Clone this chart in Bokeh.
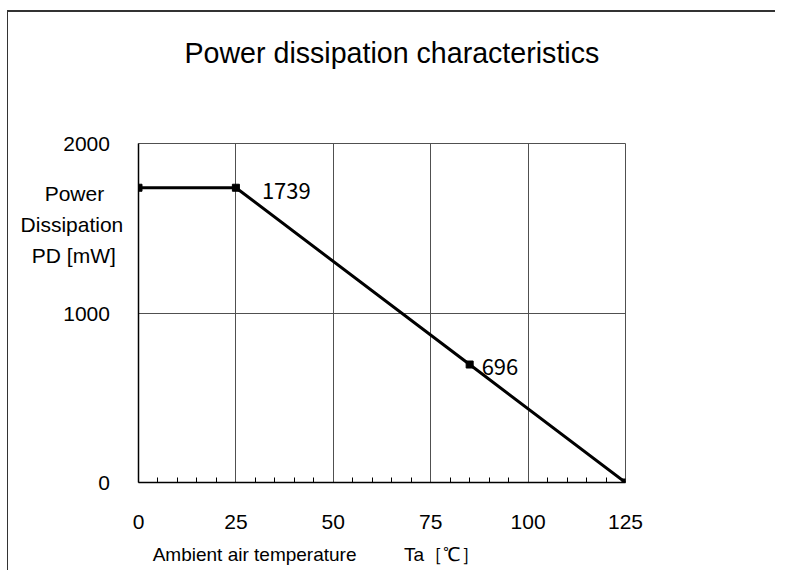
from bokeh.plotting import figure
from bokeh.models import Range1d, FixedTicker, Label, ColumnDataSource, Title, LinearAxis
from bokeh.embed import file_html
from bokeh.resources import INLINE

# ---- data ----
temps = [0, 25, 85, 125]
power = [1739, 1739, 696, 0]
point_labels = ["", "1739", "696", ""]
x_ticks = [0, 25, 50, 75, 100, 125]
x_minor = [v for v in range(5, 125, 5) if v % 25 != 0]
y_ticks = [0, 1000, 2000]
title_text = "Power dissipation characteristics"
y_label_lines = ["Power", "Dissipation", "PD [mW]"]
x_label_text = "Ambient air temperature"
x_unit_text = "Ta［℃］"

NB = "\u00a0"
TH = "\u2009"
# layout anchors (positions of the axis-label texts, in axis units)
y_label_pos = [1705, 1522, 1339]
y_label_pad = [NB * 4, TH, NB * 2]
x_label_pos = [29.8, 77.9]

p = figure(
    frame_width=487, frame_height=339,
    min_border_left=130, min_border_top=131, min_border_right=150, min_border_bottom=88,
    x_range=Range1d(0, 125), y_range=Range1d(0, 2000),
    output_backend="svg", toolbar_location=None,
)
p.styles = {"margin-top": "10px", "margin-left": "7px",
            "border-top": "2px solid #333333", "border-left": "1px solid #333333"}
p.background_fill_color = "white"
p.border_fill_color = "white"
p.outline_line_color = "#505050"
p.outline_line_width = 1

# y axis: numeric ticks + the three label lines as overridden tick labels
y_overrides = {v: str(v) + NB * 3 for v in y_ticks}
for txt, pos, pad in zip(y_label_lines, y_label_pos, y_label_pad):
    y_overrides[pos] = txt + pad
p.yaxis.ticker = FixedTicker(ticks=y_ticks + y_label_pos, minor_ticks=[])
p.yaxis.major_label_overrides = y_overrides
p.xaxis.ticker = FixedTicker(ticks=x_ticks, minor_ticks=x_minor)
for ax in (p.xaxis[0], p.yaxis[0]):
    ax.axis_line_color = "black"
    ax.axis_line_width = 1.5
    ax.major_tick_out = 0
    ax.minor_tick_out = 0
    ax.major_tick_line_color = "black"
    ax.minor_tick_line_color = "black"
    ax.major_label_text_font = "Liberation Sans"
    ax.major_label_text_font_size = "21px"
    ax.major_label_text_color = "black"
p.xaxis.major_tick_in = 0
p.xaxis.minor_tick_in = 5
p.yaxis.major_tick_in = 0
p.yaxis.minor_tick_in = 0
p.xaxis.major_label_standoff = 32
p.yaxis.major_label_standoff = 11

# second (label) x axis below
xlab_axis = LinearAxis(ticker=FixedTicker(ticks=x_label_pos, minor_ticks=[]),
                       major_label_overrides={x_label_pos[0]: x_label_text, x_label_pos[1]: x_unit_text},
                       axis_line_color=None, major_tick_line_color=None, minor_tick_line_color=None,
                       major_label_standoff=6,
                       major_label_text_font="Liberation Sans", major_label_text_font_size="19px",
                       major_label_text_color="black")
p.add_layout(xlab_axis, "below")

p.xgrid.ticker = FixedTicker(ticks=x_ticks)
p.ygrid.ticker = FixedTicker(ticks=y_ticks)
p.grid.grid_line_color = "#505050"
p.grid.grid_line_width = 1
p.grid.grid_line_alpha = 1

src = ColumnDataSource(dict(x=temps, y=power, lab=point_labels))
p.line("x", "y", source=src, line_color="black", line_width=3)
p.scatter("x", "y", source=src, marker="square", size=7, color="black")

# point value labels
p.add_layout(Label(x=temps[1], y=power[1], text=point_labels[1], x_offset=26, y_offset=-3,
                   text_font="Noto Sans CJK JP", text_font_size="22px", text_color="black",
                   text_baseline="alphabetic"))
p.add_layout(Label(x=temps[2], y=power[2], text=point_labels[2], x_offset=12, y_offset=-2,
                   text_font="Noto Sans CJK JP", text_font_size="22px", text_color="black",
                   text_baseline="alphabetic"))

# spacer between frame and title, then the title
p.add_layout(Title(text=" ", standoff=45, text_font_size="1px"), "above")
p.add_layout(Title(text=title_text, align="left", offset=46, standoff=49, vertical_align="top",
                   text_font="Liberation Sans", text_font_size="28.6px",
                   text_font_style="normal", text_color="black"), "above")

open("out.html", "w").write(file_html(p, INLINE))
